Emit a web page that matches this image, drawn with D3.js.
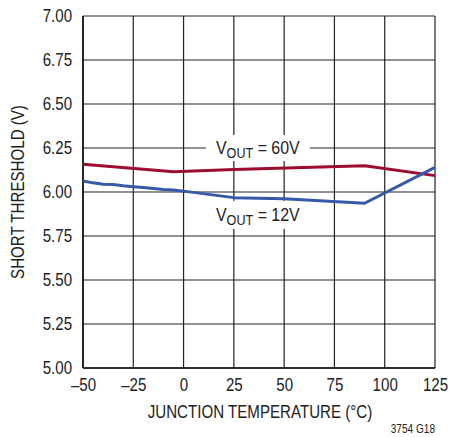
<!DOCTYPE html>
<html>
<head>
<meta charset="utf-8">
<script src="https://cdn.jsdelivr.net/npm/d3@7"></script>
<style>
  body { margin: 0; background: #fff; }
  svg { display: block; font-family: "Liberation Sans", Arial, sans-serif; }
</style>
</head>
<body>
<svg id="chart" width="450" height="437"></svg>
<script>
// tick labels
const xTicks = [-50, -25, 0, 25, 50, 75, 100, 125];
const yTicks = [5.00, 5.25, 5.50, 5.75, 6.00, 6.25, 6.50, 6.75, 7.00];

// VOUT = 60V
const temp60 = [-50, -5, 25, 90, 125];
const volt60 = [6.157, 6.115, 6.128, 6.149, 6.093];

// VOUT = 12V
const temp12 = [-50, -45, -40, -35, -30, -25, -20, -15, -10, -5, 0, 25, 50, 90, 125];
const volt12 = [6.063, 6.052, 6.044, 6.042, 6.035, 6.030, 6.026, 6.020, 6.014, 6.011, 6.005, 5.968, 5.962, 5.936, 6.140];

const svg = d3.select('#chart');
const m = { l: 83, r: 435, t: 16, b: 368 };
const nar = 'scale(0.84,1)'; // narrow look of the original face

const x = d3.scaleLinear().domain([-50, 125]).range([m.l, m.r]);
const y = d3.scaleLinear().domain([5, 7]).range([m.b, m.t]);

// grid
const grid = svg.append('g').attr('stroke', '#222').attr('stroke-width', 1.2);
grid.selectAll('.vx').data(xTicks).join('line')
  .attr('x1', (d) => x(d)).attr('x2', (d) => x(d))
  .attr('y1', m.t).attr('y2', m.b);
grid.selectAll('.hy').data(yTicks).join('line')
  .attr('y1', (d) => y(d)).attr('y2', (d) => y(d))
  .attr('x1', m.l).attr('x2', m.r);

// axis lines
svg.append('line').attr('x1', m.l).attr('x2', m.l).attr('y1', m.t).attr('y2', m.b)
  .attr('stroke', '#111').attr('stroke-width', 1.6);
svg.append('line').attr('x1', m.l).attr('x2', m.r).attr('y1', m.b).attr('y2', m.b)
  .attr('stroke', '#111').attr('stroke-width', 1.6);

// tick labels
const xAxis = d3.axisBottom(x).tickValues(xTicks).tickSize(0).tickPadding(10)
  .tickFormat((d) => (d < 0 ? '\u2013' + Math.abs(d) : d));
svg.append('g')
  .attr('transform', `translate(0, ${m.b})`)
  .call(xAxis)
  .call((g) => g.select('.domain').remove())
  .call((g) => g.selectAll('text').attr('font-size', 18).attr('fill', '#222')
    .attr('font-family', null).attr('transform', nar));

const yAxis = d3.axisLeft(y).tickValues(yTicks).tickSize(0).tickPadding(13)
  .tickFormat(d3.format('.2f'));
svg.append('g')
  .attr('transform', `translate(${m.l}, 0)`)
  .call(yAxis)
  .call((g) => g.select('.domain').remove())
  .call((g) => g.selectAll('text').attr('font-size', 18).attr('fill', '#222')
    .attr('font-family', null).attr('transform', nar));

// curve labels with white boxes
const labels = [
  { t: 25, v: 6.25, dy: 6, val: '60V', w: 104, h: 26 },
  { t: 25, v: 5.87, dy: 6, val: '12V', w: 104, h: 28 },
];
labels.forEach((lb) => {
  const cx = x(lb.t) + 24;
  const cy = y(lb.v);
  svg.append('rect')
    .attr('x', cx - lb.w / 2).attr('y', cy - lb.h / 2)
    .attr('width', lb.w).attr('height', lb.h)
    .attr('fill', '#fff');
  const txt = svg.append('text')
    .attr('transform', `translate(${cx}, ${cy + lb.dy}) ${nar}`)
    .attr('text-anchor', 'middle')
    .attr('font-size', 19).attr('fill', '#222');
  txt.append('tspan').text('V');
  txt.append('tspan').attr('font-size', 15).attr('dy', 4).text('OUT');
  txt.append('tspan').attr('dy', -4).text(' = ' + lb.val);
});

// series
const line = d3.line().x((d) => x(d[0])).y((d) => y(d[1]));
svg.append('path')
  .datum(d3.zip(temp60, volt60))
  .attr('fill', 'none').attr('stroke', '#9c0d2f').attr('stroke-width', 3)
  .attr('stroke-linejoin', 'round')
  .attr('d', line);
svg.append('path')
  .datum(d3.zip(temp12, volt12))
  .attr('fill', 'none').attr('stroke', '#3659a9').attr('stroke-width', 3)
  .attr('stroke-linejoin', 'round')
  .attr('d', line);

// axis titles
svg.append('text')
  .attr('transform', `translate(${(m.l + m.r) / 2 + 1}, 418) ${nar}`)
  .attr('text-anchor', 'middle').attr('font-size', 18).attr('fill', '#222')
  .text('JUNCTION TEMPERATURE (°C)');
svg.append('text')
  .attr('transform', `translate(24, ${(m.t + m.b) / 2}) rotate(-90) ${nar}`)
  .attr('text-anchor', 'middle').attr('font-size', 18).attr('fill', '#222')
  .text('SHORT THRESHOLD (V)');
svg.append('text')
  .attr('transform', `translate(435, 433) ${nar}`)
  .attr('text-anchor', 'end').attr('font-size', 12).attr('fill', '#222')
  .text('3754 G18');
</script>
</body>
</html>
